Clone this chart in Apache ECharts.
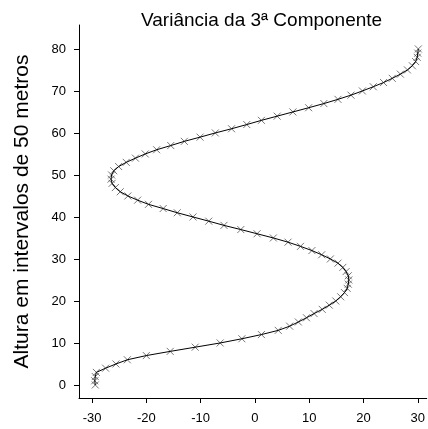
<!DOCTYPE html>
<html>
<head>
<meta charset="utf-8">
<script src="https://cdn.jsdelivr.net/npm/echarts@6/dist/echarts.min.js"></script>
<style>html,body{margin:0;padding:0;background:#fff;}#c{width:428px;height:429px;}</style>
</head>
<body>
<div id="c"></div>
<script>
// Altura (y) levels and Variância values (x)
const heights = [0,1,2,3,4,5,6,7,8,9,10,11,12,13,14,15,16,17,18,19,20,21,22,23,24,25,26,27,28,29,30,31,32,33,34,35,36,37,38,39,40,41,42,43,44,45,46,47,48,49,50,51,52,53,54,55,56,57,58,59,60,61,62,63,64,65,66,67,68,69,70,71,72,73,74,75,76,77,78,79,80];
const variance = [-29.4,-29.5,-29.4,-29.2,-27.5,-25.6,-23.5,-20.0,-15.6,-11.0,-6.4,-2.4,1.2,4.3,6.4,8.0,9.5,10.9,12.4,13.7,14.9,15.8,16.5,17.0,17.2,17.3,17.2,16.8,16.2,15.3,13.9,12.3,10.5,8.4,6.1,3.4,0.4,-2.6,-5.7,-8.5,-11.4,-14.3,-16.9,-19.6,-21.6,-23.4,-24.8,-25.7,-26.3,-26.5,-26.4,-26.0,-25.1,-23.7,-22.0,-20.2,-18.1,-15.5,-13.0,-10.1,-7.3,-4.3,-1.5,1.2,4.1,7.0,9.9,12.7,15.3,17.7,19.8,21.8,23.7,25.3,26.8,28.1,29.0,29.6,29.9,30.0,30.1];
const xTicks = [-30,-20,-10,0,10,20,30];
const yTicks = [0,10,20,30,40,50,60,70,80];
const titleText = 'Variância da 3ª Componente';
const yName = 'Altura em intervalos de 50 metros';

const pts = variance.map((v, i) => [v, heights[i]]);
const font = 'Liberation Sans, Arial, Helvetica, sans-serif';

const chart = echarts.init(document.getElementById('c'), null, {renderer: 'canvas'});
chart.setOption({
  animation: false,
  backgroundColor: '#fff',
  title: {
    text: titleText,
    left: 136, top: 6,
    textStyle: {fontFamily: font, fontSize: 19, fontWeight: 'normal', color: '#000'}
  },
  grid: {left: 79, right: 0, top: 25, bottom: 31, containLabel: false},
  xAxis: {
    type: 'value', min: -32.4, max: 31.65,
    splitLine: {show: false},
    axisLine: {show: true, onZero: false, lineStyle: {color: '#000', width: 1}},
    axisTick: {show: true, length: 5, lineStyle: {color: '#000'}, customValues: xTicks},
    axisLabel: {show: true, margin: 14, fontFamily: font, fontSize: 13, color: '#000', customValues: xTicks}
  },
  yAxis: {
    type: 'value', min: -3.1, max: 85.7,
    name: yName, nameLocation: 'middle', nameRotate: 90, nameGap: 46,
    nameTextStyle: {fontFamily: font, fontSize: 21, color: '#000'},
    splitLine: {show: false},
    axisLine: {show: true, onZero: false, lineStyle: {color: '#000', width: 1}},
    axisTick: {show: true, length: 5, lineStyle: {color: '#000'}, customValues: yTicks},
    axisLabel: {show: true, margin: 13, fontFamily: font, fontSize: 13, color: '#000', customValues: yTicks}
  },
  series: [
    {
      type: 'scatter', data: pts, z: 2,
      symbol: 'path://M0,0L10,10M10,0L0,10', symbolSize: 7,
      itemStyle: {color: 'rgba(0,0,0,0)', borderColor: '#555', borderWidth: 1}
    },
    {
      type: 'line', data: pts, z: 3, showSymbol: false, smooth: false,
      lineStyle: {color: '#000', width: 1}
    }
  ]
});
</script>
</body>
</html>
